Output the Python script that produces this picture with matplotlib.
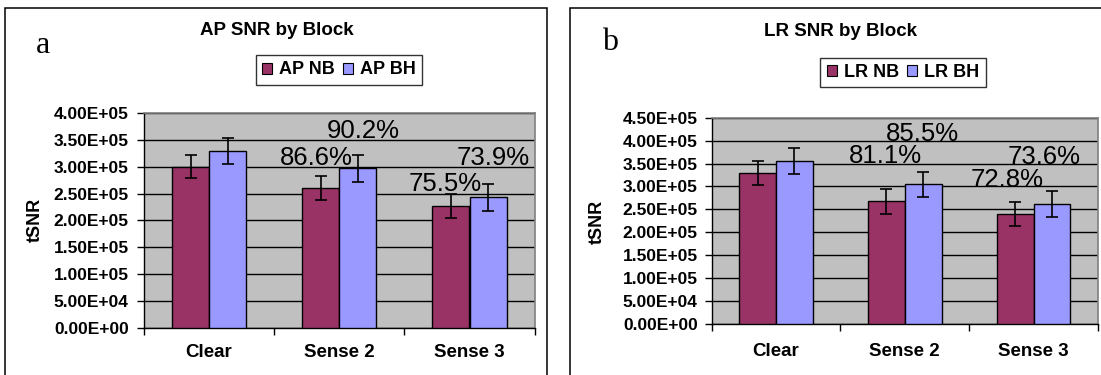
import matplotlib
matplotlib.use("Agg")
import matplotlib.pyplot as plt
from matplotlib.patches import Rectangle, Patch
import numpy as np

# ---- data ----
categories = ["Clear", "Sense 2", "Sense 3"]

ap_nb = [3.00e5, 2.598e5, 2.265e5]
ap_bh = [3.29e5, 2.968e5, 2.431e5]
ap_nb_err = [2.1e4, 2.2e4, 2.2e4]
ap_bh_err = [2.4e4, 2.5e4, 2.5e4]

lr_nb = [3.30e5, 2.676e5, 2.402e5]
lr_bh = [3.56e5, 3.044e5, 2.620e5]
lr_nb_err = [2.6e4, 2.7e4, 2.6e4]
lr_bh_err = [2.8e4, 2.8e4, 2.8e4]

ap_ticks = [0, 5e4, 1e5, 1.5e5, 2e5, 2.5e5, 3e5, 3.5e5, 4e5]
lr_ticks = [0, 5e4, 1e5, 1.5e5, 2e5, 2.5e5, 3e5, 3.5e5, 4e5, 4.5e5]

NB_COLOR = "#993366"
BH_COLOR = "#9999FF"
PLOT_BG = "#C0C0C0"
SANS = "Liberation Sans"

W, H = 1101, 375
fig = plt.figure(figsize=(W / 100, H / 100), dpi=100)
fig.patch.set_facecolor("white")


def px_x(x):
    return x / W


def px_y(y):
    return 1 - y / H


def draw_panel(rect, nb, bh, nb_err, bh_err, ticks, names, title, letter,
               title_x, title_base, letter_x, letter_base, ylabel_x, ylabel_y,
               legend_center, label_anchors, ylab_pad, xlab_pad):
    ax = fig.add_axes(rect)
    ax.set_facecolor(PLOT_BG)
    x = np.arange(len(categories))
    w = 1 / 3.5
    ax.bar(x - w / 2, nb, w, color=NB_COLOR, edgecolor="black", linewidth=1.0, zorder=3)
    ax.bar(x + w / 2, bh, w, color=BH_COLOR, edgecolor="black", linewidth=1.0, zorder=3)
    ekw = dict(fmt="none", ecolor="black", elinewidth=1.2, capsize=4, capthick=1.2, zorder=4)
    ax.errorbar(x - w / 2, nb, yerr=nb_err, **ekw)
    ax.errorbar(x + w / 2, bh, yerr=bh_err, **ekw)

    ax.set_xlim(-0.5, len(categories) - 0.5)
    ax.set_ylim(ticks[0], ticks[-1])
    ax.set_yticks(ticks)
    ax.set_yticklabels([f"{t:.2E}" for t in ticks], fontfamily=SANS,
                       fontweight="bold", fontsize=12.5)
    ax.tick_params(axis="y", direction="out", length=5, width=1, pad=ylab_pad,
                   color="black")
    ax.yaxis.grid(True, color="black", linewidth=1, zorder=1)
    ax.set_axisbelow(True)

    ax.set_xticks(x)
    ax.set_xticklabels(categories, fontfamily=SANS, fontweight="bold", fontsize=13.5)
    ax.set_xticks(np.arange(len(categories) + 1) - 0.5, minor=True)
    ax.tick_params(axis="x", which="major", length=0, pad=xlab_pad)
    ax.tick_params(axis="x", which="minor", direction="out", length=5, width=1,
                   color="black")

    for s in ("top", "right"):
        ax.spines[s].set_color("#808080")
        ax.spines[s].set_linewidth(1.2)
    for s in ("left", "bottom"):
        ax.spines[s].set_color("black")
        ax.spines[s].set_linewidth(1)

    # percentage of each series relative to the Clear block
    ratios = [nb[1] / nb[0], bh[1] / bh[0], nb[2] / nb[0], bh[2] / bh[0]]
    for ratio, (lx, ly) in zip(ratios, label_anchors):
        ax.text(lx, ly, f"{ratio * 100:.1f}%", ha="center", va="baseline",
                fontfamily=SANS, fontsize=18.5, color="black", zorder=5)

    fig.text(px_x(title_x), px_y(title_base), title, ha="center", va="baseline",
             fontfamily=SANS, fontweight="bold", fontsize=13.5)
    fig.text(px_x(letter_x), px_y(letter_base), letter, ha="left", va="baseline",
             fontfamily="Liberation Serif", fontsize=23)
    fig.text(px_x(ylabel_x), px_y(ylabel_y), "tSNR", rotation=90, ha="center",
             va="center", fontfamily=SANS, fontweight="bold", fontsize=13)

    handles = [Patch(facecolor=NB_COLOR, edgecolor="black", linewidth=0.8),
               Patch(facecolor=BH_COLOR, edgecolor="black", linewidth=0.8)]
    leg = fig.legend(handles, names, loc="center",
                     bbox_to_anchor=(px_x(legend_center[0]), px_y(legend_center[1])),
                     ncol=2, frameon=True, fancybox=False, shadow=False,
                     handlelength=0.55, handleheight=0.55, handletextpad=0.4,
                     columnspacing=0.45, borderpad=0.35, borderaxespad=0,
                     prop=dict(family=SANS, weight="bold", size=13))
    leg.get_frame().set_edgecolor("black")
    leg.get_frame().set_linewidth(1.0)
    return ax


# panel a
draw_panel([px_x(144), px_y(327.7), px_x(534.6 - 144), (327.7 - 113) / H],
           ap_nb, ap_bh, ap_nb_err, ap_bh_err, ap_ticks, ["AP NB", "AP BH"],
           "AP SNR by Block", "a",
           title_x=277, title_base=35, letter_x=36, letter_base=53,
           ylabel_x=35, ylabel_y=220, legend_center=(339, 70),
           label_anchors=[(0.822, 3.03e5), (1.187, 3.54e5), (1.811, 2.555e5), (2.18, 3.03e5)],
           ylab_pad=6, xlab_pad=12)

# panel b
draw_panel([px_x(711.6), px_y(324), px_x(1098 - 711.6), (324 - 117.7) / H],
           lr_nb, lr_bh, lr_nb_err, lr_bh_err, lr_ticks, ["LR NB", "LR BH"],
           "LR SNR by Block", "b",
           title_x=840, title_base=36.5, letter_x=602, letter_base=50,
           ylabel_x=597.5, ylabel_y=221.7, legend_center=(903, 72.5),
           label_anchors=[(0.848, 3.52e5), (1.134, 3.99e5), (1.793, 2.995e5), (2.083, 3.49e5)],
           ylab_pad=5, xlab_pad=13.5)

# panel frames
fig.add_artist(Rectangle((px_x(5.3), -0.2), px_x(546.5 - 5.3), px_y(8) + 0.2,
                         transform=fig.transFigure, fill=False, edgecolor="black",
                         linewidth=1.1))
fig.add_artist(Rectangle((px_x(569.5), -0.2), 0.6, px_y(7.5) + 0.2,
                         transform=fig.transFigure, fill=False, edgecolor="black",
                         linewidth=1.1))

fig.savefig("out.png", dpi=100, facecolor="white")
